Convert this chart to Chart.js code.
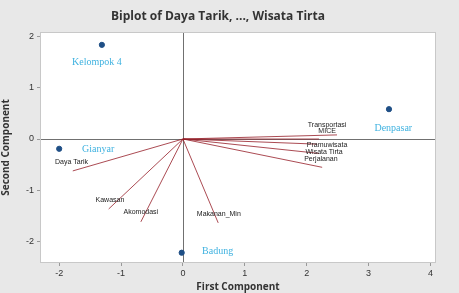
<!DOCTYPE html>
<html lang="en">
<head>
  <meta charset="UTF-8">
  <title>Biplot</title>
  <script src="https://cdn.jsdelivr.net/npm/chart.js@4.4.1/dist/chart.umd.min.js"></script>
  <style>
    body {
      margin: 0;
      background-color: #e8e8e8;
    }
    #wrap {
      width: 459px;
      height: 293px;
    }
  </style>
</head>
<body>
  <div id="wrap"><canvas id="biplot"></canvas></div>

  <script>
    // scores (observations)
    const scoreNames = ['Kelompok 4', 'Gianyar', 'Badung', 'Denpasar'];
    const scoreX = [-1.31, -2.0, -0.02, 3.33];
    const scoreY = [1.83, -0.19, -2.21, 0.58];
    const scoreLabelX = [-1.39, -1.37, 0.56, 3.4];
    const scoreLabelY = [1.48, -0.2, -2.19, 0.21];

    // loadings (variables)
    const loadNames = ['Daya Tarik', 'Kawasan', 'Akomodasi', 'Makanan_Min',
      'Transportasi', 'MICE', 'Pramuwisata', 'Wisata Tirta', 'Perjalanan'];
    const loadX = [-1.78, -1.2, -0.68, 0.57, 2.49, 2.2, 2.17, 2.2, 2.25];
    const loadY = [-0.62, -1.36, -1.61, -1.63, 0.08, 0.0, -0.1, -0.28, -0.55];
    const loadLabelX = [-1.8, -1.18, -0.68, 0.58, 2.33, 2.33, 2.33, 2.28, 2.23];
    const loadLabelY = [-0.45, -1.18, -1.42, -1.46, 0.27, 0.16, -0.12, -0.25, -0.39];

    const xTicks = [-2, -1, 0, 1, 2, 3, 4];
    const yTicks = [-2, -1, 0, 1, 2];

    const datasets = loadNames.map((name, i) => ({
      type: 'line',
      label: name,
      data: [{ x: 0, y: 0 }, { x: loadX[i], y: loadY[i] }],
      borderColor: 'rgba(150, 30, 40, 0.8)',
      borderWidth: 1,
      pointRadius: 0,
      fill: false
    }));
    datasets.push({
      type: 'scatter',
      label: 'scores',
      data: scoreX.map((x, i) => ({ x: x, y: scoreY[i] })),
      backgroundColor: '#1f4f86',
      borderColor: '#1f4f86',
      pointRadius: 2.6
    });

    const backdrop = {
      id: 'backdrop',
      beforeDraw(chart) {
        const { ctx, chartArea: a } = chart;
        ctx.save();
        ctx.fillStyle = '#e8e8e8';
        ctx.fillRect(0, 0, chart.width, chart.height);
        ctx.fillStyle = '#ffffff';
        ctx.fillRect(a.left, a.top, a.right - a.left, a.bottom - a.top);
        ctx.restore();
      },
      beforeDatasetsDraw(chart) {
        const { ctx, chartArea: a, scales } = chart;
        const x0 = Math.round(scales.x.getPixelForValue(0)) + 0.5;
        const y0 = Math.round(scales.y.getPixelForValue(0)) + 0.5;
        ctx.save();
        ctx.strokeStyle = '#707070';
        ctx.lineWidth = 1;
        ctx.beginPath();
        ctx.moveTo(x0, a.top);
        ctx.lineTo(x0, a.bottom);
        ctx.moveTo(a.left, y0);
        ctx.lineTo(a.right, y0);
        ctx.stroke();
        ctx.strokeStyle = '#c8c8c8';
        ctx.strokeRect(a.left + 0.5, a.top + 0.5, a.right - a.left - 1, a.bottom - a.top - 1);
        ctx.restore();
      },
      afterDatasetsDraw(chart) {
        const { ctx, scales } = chart;
        ctx.save();
        ctx.textBaseline = 'middle';
        ctx.textAlign = 'center';
        ctx.fillStyle = '#222222';
        ctx.font = '7px "Liberation Sans", Arial, sans-serif';
        loadNames.forEach((name, i) => {
          ctx.fillText(name, scales.x.getPixelForValue(loadLabelX[i]), scales.y.getPixelForValue(loadLabelY[i]));
        });
        ctx.fillStyle = '#3fb2e0';
        ctx.font = '10px "Liberation Serif", "Times New Roman", serif';
        scoreNames.forEach((name, i) => {
          ctx.fillText(name, scales.x.getPixelForValue(scoreLabelX[i]), scales.y.getPixelForValue(scoreLabelY[i]));
        });
        ctx.restore();
      }
    };

    new Chart(document.getElementById('biplot'), {
      data: { datasets: datasets },
      options: {
        responsive: true,
        maintainAspectRatio: false,
        animation: false,
        layout: { padding: { left: 0, right: 23, top: 0, bottom: 0 } },
        plugins: {
          legend: { display: false },
          tooltip: { enabled: false },
          title: {
            display: true,
            text: 'Biplot of Daya Tarik, ..., Wisata Tirta',
            color: '#333333',
            font: { family: '"Open Sans", Arial, sans-serif', size: 12, weight: 'bold' },
            padding: { top: 9, bottom: 8.6 }
          }
        },
        scales: {
          x: {
            type: 'linear',
            min: -2.31,
            max: 4.09,
            afterBuildTicks: (s) => { s.ticks = xTicks.map(v => ({ value: v })); },
            afterFit: (s) => { s.height = 30; },
            grid: { drawOnChartArea: false, tickLength: 3, color: '#999999' },
            border: { display: false },
            ticks: { color: '#333333', font: { family: '"Liberation Sans", Arial', size: 9 }, padding: 2 },
            title: {
              display: true,
              text: 'First Component',
              color: '#333333',
              font: { family: '"Open Sans", Arial, sans-serif', size: 10, weight: 'bold' },
              padding: { top: 0, bottom: 0 }
            }
          },
          y: {
            type: 'linear',
            min: -2.41,
            max: 2.08,
            afterBuildTicks: (s) => { s.ticks = yTicks.map(v => ({ value: v })); },
            afterFit: (s) => { s.width = 40; },
            grid: { drawOnChartArea: false, tickLength: 3, color: '#999999' },
            border: { display: false },
            ticks: { color: '#333333', font: { family: '"Liberation Sans", Arial', size: 9 }, padding: 3 },
            title: {
              display: true,
              text: 'Second Component',
              color: '#333333',
              font: { family: '"Open Sans", Arial, sans-serif', size: 10, weight: 'bold' },
              padding: { top: 0, bottom: 4 }
            }
          }
        }
      },
      plugins: [backdrop]
    });
  </script>
</body>
</html>
